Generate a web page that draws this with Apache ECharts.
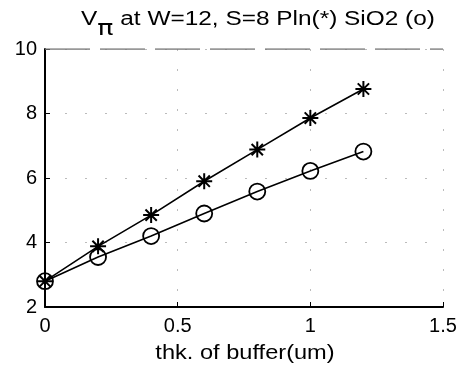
<!DOCTYPE html>
<html>
<head>
<meta charset="utf-8">
<script src="https://cdn.jsdelivr.net/npm/echarts@6/dist/echarts.min.js"></script>
<style>html,body{margin:0;padding:0;background:#fff}#c{width:470px;height:373px}</style>
</head>
<body>
<div id="c"></div>
<script>
const thickness = [0, 0.2, 0.4, 0.6, 0.8, 1.0, 1.2];
const plnValues = [2.8, 3.88, 4.85, 5.9, 6.88, 7.86, 8.76];
const sio2Values = [2.8, 3.55, 4.2, 4.9, 5.58, 6.22, 6.82];
const xTicks = [0, 0.5, 1, 1.5];
const yTicks = [2, 4, 6, 8, 10];
const titleMain = 'V';
const titleSub = 'π';
const titleRest = ' at W=12, S=8 Pln(*) SiO2 (o)';
const xName = 'thk. of buffer(um)';

const FONT = 'Liberation Sans, Arial, Helvetica, sans-serif';
const starPath = 'path://M0,-10 L0,10 M-10,0 L10,0 M-7.07,-7.07 L7.07,7.07 M-7.07,7.07 L7.07,-7.07';

const chart = echarts.init(document.getElementById('c'), null, {renderer: 'canvas'});
chart.setOption({
  animation: false,
  backgroundColor: '#fff',
  graphic: [
    {
      type: 'text', x: 258, y: 9, scaleX: 1.22, scaleY: 1,
      style: {
        text: '{v|' + titleMain + '}{pi|' + titleSub + '}{t|' + titleRest + '}',
        textAlign: 'center', textVerticalAlign: 'top',
        rich: {
          v: {fontFamily: FONT, fontSize: 20, fill: '#000', lineHeight: 31, verticalAlign: 'top'},
          pi: {fontFamily: 'DejaVu Sans, sans-serif', fontSize: 22, fill: '#000', lineHeight: 31, verticalAlign: 'bottom'},
          t: {fontFamily: FONT, fontSize: 20, fill: '#000', lineHeight: 31, verticalAlign: 'top'}
        }
      }
    },
    {
      type: 'text', x: 245, y: 353, scaleX: 1.18, scaleY: 1,
      style: {text: xName, font: '20px ' + FONT, fill: '#000', textAlign: 'center', textVerticalAlign: 'middle'}
    }
  ],
  grid: {left: 45, right: 27, top: 49, bottom: 66, show: false},
  xAxis: {
    type: 'value', min: 0, max: 1.5, interval: 0.5,
    axisLine: {show: true, onZero: false, lineStyle: {color: '#000', width: 2}},
    axisTick: {show: true, inside: true, length: 5, lineStyle: {color: '#000', width: 1}},
    axisLabel: {fontFamily: FONT, fontSize: 20, color: '#000', margin: 9,
      formatter: v => xTicks.includes(v) ? String(v) : ''},
    splitLine: {show: true, lineStyle: {color: '#bbb', width: 1, type: [2, 18]}}
  },
  yAxis: {
    type: 'value', min: 2, max: 10, interval: 2,
    axisLine: {show: true, onZero: false, lineStyle: {color: '#000', width: 2}},
    axisTick: {show: true, inside: true, length: 5, lineStyle: {color: '#000', width: 1}},
    axisLabel: {fontFamily: FONT, fontSize: 20, color: '#000', margin: 8,
      formatter: v => yTicks.includes(v) ? String(v) : ''},
    splitLine: {show: true, lineStyle: {color: '#bbb', width: 1, type: [2, 18]}}
  },
  series: [
    {
      type: 'line', name: 'Pln',
      data: thickness.map((x, i) => [x, plnValues[i]]),
      symbol: starPath, symbolSize: 16,
      lineStyle: {color: '#000', width: 1.6},
      itemStyle: {color: 'rgba(0,0,0,0)', borderColor: '#000', borderWidth: 2},
      z: 3
    },
    {
      type: 'line', name: 'SiO2',
      data: thickness.map((x, i) => [x, sio2Values[i]]),
      symbol: 'circle', symbolSize: 16,
      lineStyle: {color: '#000', width: 1.6},
      itemStyle: {color: 'rgba(0,0,0,0)', borderColor: '#000', borderWidth: 1.8},
      z: 3
    },
    {
      type: 'line', name: 'topframe', silent: true,
      data: [[0, 10], [1.5, 10]], symbol: 'none',
      lineStyle: {color: '#777', width: 1.5, type: [45, 10]}, z: 2
    }
  ]
});
</script>
</body>
</html>
